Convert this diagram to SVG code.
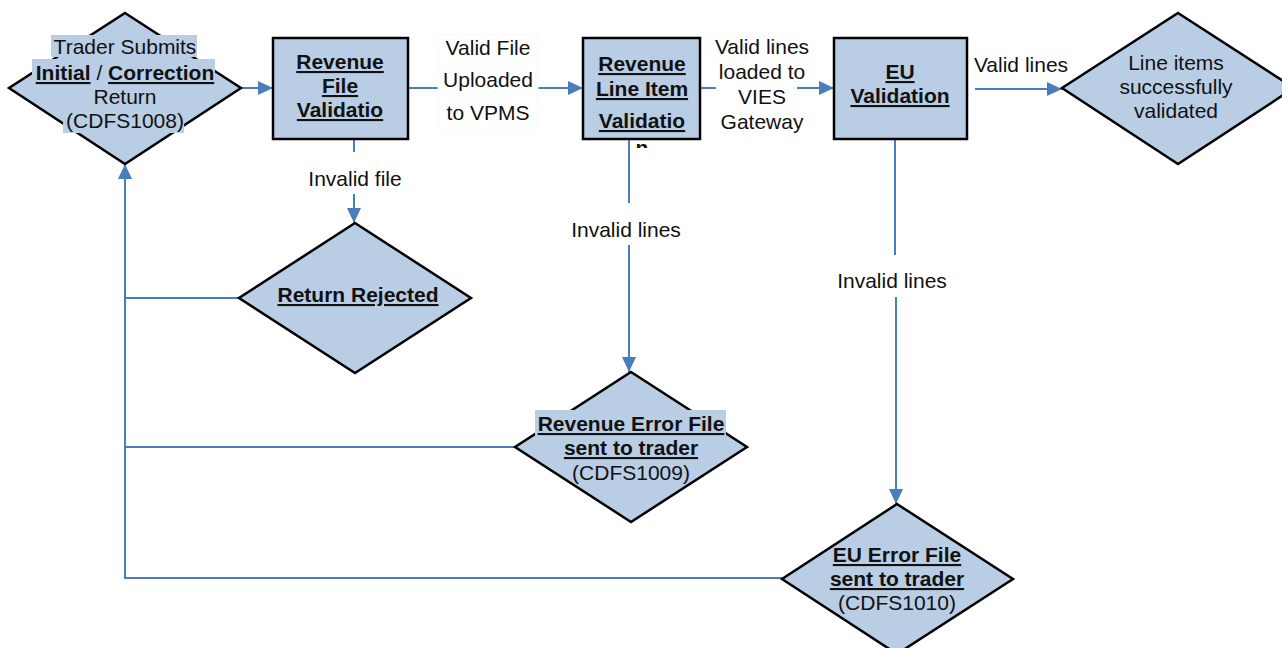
<svg xmlns="http://www.w3.org/2000/svg" width="1282" height="648" viewBox="0 0 1282 648">
<style>
text{font-family:"Liberation Sans",Arial,sans-serif;font-size:21px;fill:#111;text-anchor:middle}
.b{font-weight:bold;text-decoration:underline}
.shape{fill:#b9cde5;stroke:#000;stroke-width:2.5}
.hl{fill:#b9cde5}
.c{fill:none;stroke:#4a7ebb;stroke-width:2}
</style>
<defs>
<marker id="ah" markerUnits="userSpaceOnUse" markerWidth="16" markerHeight="14" refX="15" refY="7" orient="auto">
<path d="M0,0 L15,7 L0,14 Z" fill="#4a7ebb"/>
</marker>
<clipPath id="clipn"><rect x="600" y="130" width="80" height="18"/></clipPath>
</defs>
<rect width="1282" height="648" fill="#fff"/>

<g id="connectors">
<path class="c" d="M241,88 H273" marker-end="url(#ah)"/>
<path class="c" d="M408,88 H438"/>
<path class="c" d="M538,88 H583" marker-end="url(#ah)"/>
<path class="c" d="M700,88 H716"/>
<path class="c" d="M797,88 H834" marker-end="url(#ah)"/>
<path class="c" d="M975,89 H1062" marker-end="url(#ah)"/>
<path class="c" d="M354,139 V152"/>
<path class="c" d="M354,194 V223" marker-end="url(#ah)"/>
<path class="c" d="M629,139 V203"/>
<path class="c" d="M629,245 V372" marker-end="url(#ah)"/>
<path class="c" d="M895,139 V255"/>
<path class="c" d="M896,297 V504" marker-end="url(#ah)"/>
<path class="c" d="M239,298 H125"/>
<path class="c" d="M515,447 H125"/>
<path class="c" d="M782,578 H125 V164" marker-end="url(#ah)"/>
<g id="label-valid-file">
<rect x="438" y="35" width="100" height="95" fill="#fff" stroke="#f8f8f8" stroke-width="1"/>
<text x="488" y="55">Valid File</text>
<text x="488" y="87">Uploaded</text>
<text x="488" y="120">to VPMS</text>
</g>
<g id="label-valid-lines-vies">
<text x="762" y="54">Valid lines</text>
<text x="762" y="79">loaded to</text>
<text x="762" y="104">VIES</text>
<text x="762" y="129">Gateway</text>
</g>
<text x="1021" y="72">Valid lines</text>
<text x="355" y="186">Invalid file</text>
<text x="626" y="237">Invalid lines</text>
<text x="892" y="288">Invalid lines</text>
</g>

<g id="trader-submits">
<path class="shape" d="M125,13 L241,88 L125,164 L9,88 Z"/>
<rect class="hl" x="51" y="35" width="146" height="22"/>
<rect class="hl" x="32" y="59" width="183" height="25"/>
<rect class="hl" x="63" y="111" width="121" height="22"/>
<text x="125" y="54">Trader Submits</text>
<text x="125" y="80"><tspan class="b">Initial</tspan> / <tspan class="b">Correction</tspan></text>
<text x="125" y="104">Return</text>
<text x="125" y="128">(CDFS1008)</text>
</g>

<g id="revenue-file-validation">
<rect class="shape" x="273" y="38" width="135" height="101"/>
<text class="b" x="340" y="69">Revenue</text>
<text class="b" x="340" y="93">File</text>
<text class="b" x="340" y="117">Validatio</text>
</g>

<g id="revenue-line-item-validation">
<rect class="shape" x="583" y="38" width="117" height="101"/>
<text class="b" x="642" y="71">Revenue</text>
<text class="b" x="642" y="96">Line Item</text>
<text class="b" x="642" y="128">Validatio</text>
<text x="642" y="155" font-weight="bold" clip-path="url(#clipn)">n</text>
</g>

<g id="eu-validation">
<rect class="shape" x="834" y="38" width="133" height="101"/>
<text class="b" x="900" y="79">EU</text>
<text class="b" x="900" y="103">Validation</text>
</g>

<g id="line-items-validated">
<path class="shape" d="M1178,13 L1294,88 L1178,164 L1062,88 Z"/>
<text x="1176" y="70">Line items</text>
<text x="1176" y="94">successfully</text>
<text x="1176" y="118">validated</text>
</g>

<g id="return-rejected">
<path class="shape" d="M355,223 L471,298 L355,373 L239,298 Z"/>
<text class="b" x="358" y="302">Return Rejected</text>
</g>

<g id="revenue-error-file">
<path class="shape" d="M631,372 L747,447 L631,522 L515,447 Z"/>
<rect class="hl" x="535" y="410" width="191" height="25"/>
<text class="b" x="631" y="431">Revenue Error File</text>
<text class="b" x="631" y="455">sent to trader</text>
<text x="631" y="480">(CDFS1009)</text>
</g>

<g id="eu-error-file">
<path class="shape" d="M897,504 L1013,579 L897,654 L782,579 Z"/>
<text class="b" x="897" y="562">EU Error File</text>
<text class="b" x="897" y="586">sent to trader</text>
<text x="897" y="610">(CDFS1010)</text>
</g>
</svg>
